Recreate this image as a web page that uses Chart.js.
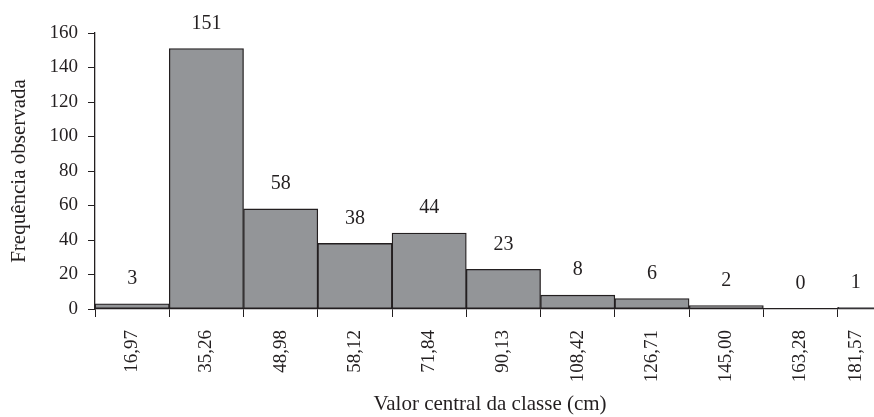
<!DOCTYPE html>
<html>
<head>
<meta charset="utf-8">
<script src="https://cdn.jsdelivr.net/npm/chart.js@4/dist/chart.umd.min.js"></script>
<style>
    html, body { margin: 0; padding: 0; background: #fff; overflow: hidden; }
    #wrap { width: 874px; height: 417px; }
</style>
</head>
<body>
<div id="wrap"><canvas id="histChart" width="874" height="417"></canvas></div>
<script>
// Class centres (cm) and observed frequencies
const categories = ['16,97', '35,26', '48,98', '58,12', '71,84', '90,13', '108,42', '126,71', '145,00', '163,28', '181,57'];
const frequencies = [3, 151, 58, 38, 44, 23, 8, 6, 2, 0, 1];
const yMin = 0;
const yMax = 160;
const yStep = 20;

// the last class is cut off by the right edge of the figure
const xMin = -0.5;
const xMax = 9.99;

const yTitle = 'Frequência observada';
const xTitle = 'Valor central da classe (cm)';

const FONT = 'Liberation Serif';
const INK = '#231f20';

// centre of the visible part of a class
function visibleCentre(i) {
    return Math.min(i, (i - 0.5 + xMax) / 2);
}

// no extra side padding for rotated labels
function noSidePadding(scale) {
    scale.paddingLeft = 0;
    scale.paddingRight = 0;
}

// value labels above each bar
const barLabels = {
    id: 'barLabels',
    afterDatasetsDraw(chart) {
        const ctx = chart.ctx;
        const xs = chart.scales.x;
        const ys = chart.scales.y;
        ctx.save();
        ctx.font = `20px "${FONT}"`;
        ctx.fillStyle = INK;
        ctx.textAlign = 'center';
        ctx.textBaseline = 'middle';
        frequencies.forEach((v, i) => {
            ctx.fillText(String(v), xs.getPixelForValue(visibleCentre(i)), ys.getPixelForValue(v) - 25);
        });
        ctx.restore();
    }
};

// x-axis title centred on the visible part of the axis
const xAxisTitle = {
    id: 'xAxisTitle',
    afterDraw(chart) {
        const ctx = chart.ctx;
        ctx.save();
        ctx.font = `21px "${FONT}"`;
        ctx.fillStyle = INK;
        ctx.textAlign = 'center';
        ctx.textBaseline = 'middle';
        ctx.fillText(xTitle, 490, 404);
        ctx.restore();
    }
};

const ctx = document.getElementById('histChart').getContext('2d');
new Chart(ctx, {
    type: 'bar',
    data: {
        datasets: [{
            data: frequencies.map((v, i) => ({ x: i, y: v })),
            xAxisID: 'x',
            backgroundColor: '#939598',
            borderColor: INK,
            borderWidth: 1.3,
            borderSkipped: false,
            categoryPercentage: 1,
            barPercentage: 1
        }]
    },
    options: {
        responsive: false,
        animation: false,
        layout: { padding: { top: 33, right: 0, bottom: 0, left: 0 } },
        plugins: {
            legend: { display: false },
            tooltip: { enabled: false }
        },
        scales: {
            // class boundaries: tick marks only
            x: {
                type: 'linear',
                position: 'bottom',
                weight: 0,
                min: xMin,
                max: xMax,
                offset: false,
                afterBuildTicks: scale => {
                    scale.ticks = categories.map((c, i) => ({ value: i - 0.5 }));
                },
                afterFit: scale => { scale.height = 9; noSidePadding(scale); },
                grid: {
                    offset: false,
                    drawOnChartArea: false,
                    drawTicks: true,
                    tickLength: 8,
                    color: INK,
                    lineWidth: 1
                },
                border: { display: true, color: INK, width: 1.3 },
                ticks: { display: false }
            },
            // class centre labels
            xLabels: {
                type: 'linear',
                position: 'bottom',
                weight: 1,
                min: xMin,
                max: xMax,
                offset: false,
                afterBuildTicks: scale => {
                    scale.ticks = categories.map((c, i) => ({ value: visibleCentre(i) }));
                },
                afterFit: scale => { scale.height = 99; noSidePadding(scale); },
                grid: { display: false, drawTicks: false, offset: false },
                border: { display: false },
                ticks: {
                    minRotation: 90,
                    maxRotation: 90,
                    autoSkip: false,
                    padding: 12,
                    color: INK,
                    font: { family: FONT, size: 19 },
                    callback: value => categories[Math.round(value)]
                }
            },
            y: {
                min: yMin,
                max: yMax,
                afterFit: scale => {
                    scale.width = 95;
                    scale.paddingTop = 0;
                    scale.paddingBottom = 0;
                },
                grid: {
                    drawOnChartArea: false,
                    drawTicks: true,
                    tickLength: 7,
                    color: INK,
                    lineWidth: 1
                },
                border: { display: true, color: INK, width: 1.3 },
                ticks: {
                    stepSize: yStep,
                    padding: 10,
                    color: INK,
                    font: { family: FONT, size: 19 }
                },
                title: {
                    display: true,
                    text: yTitle,
                    color: INK,
                    font: { family: FONT, size: 21 },
                    padding: { top: 7, bottom: 0 }
                }
            }
        }
    },
    plugins: [barLabels, xAxisTitle]
});
</script>
</body>
</html>
